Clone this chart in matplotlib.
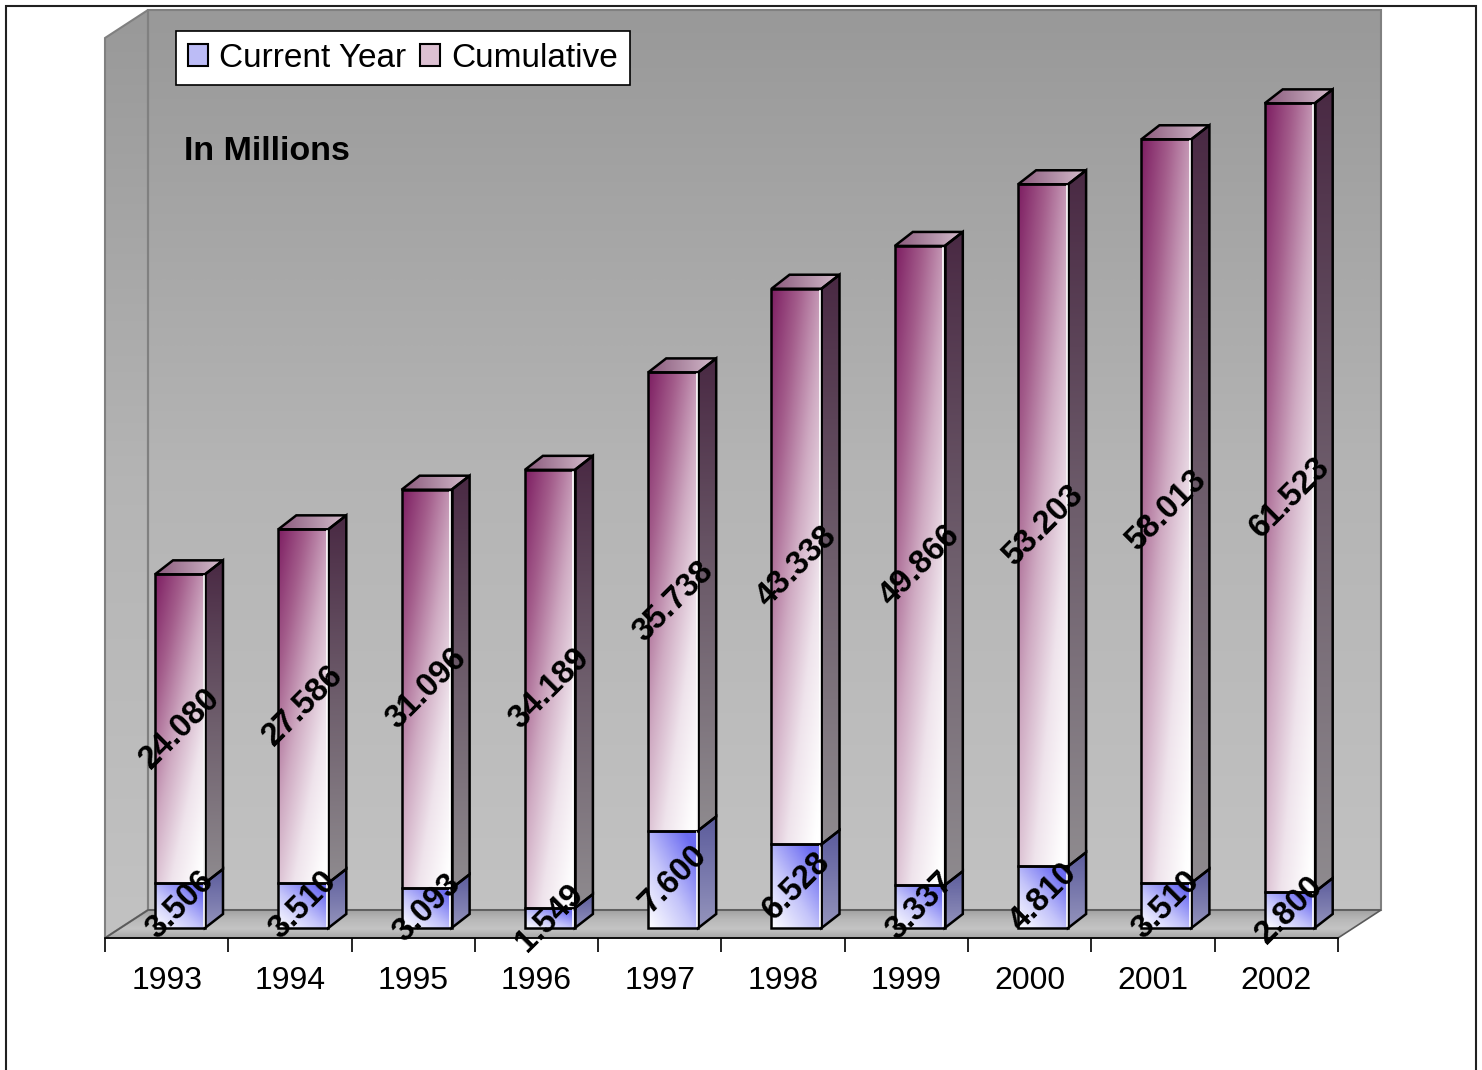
import numpy as np
import matplotlib.pyplot as plt
from matplotlib.colors import LinearSegmentedColormap
from matplotlib.patches import Polygon, Rectangle, Patch

plt.rcParams['font.family'] = ['Liberation Sans', 'DejaVu Sans']

# data (millions)
years = ['1993', '1994', '1995', '1996', '1997', '1998', '1999', '2000', '2001', '2002']
current_year = [3.506, 3.510, 3.093, 1.549, 7.600, 6.528, 3.337, 4.810, 3.510, 2.800]
cumulative = [24.080, 27.586, 31.096, 34.189, 35.738, 43.338, 49.866, 53.203, 58.013, 61.523]

# canvas geometry: one category = 123.3 px, one million = 12.82 px
W, H = 1482, 1070
CAT_PX, VAL_PX = 123.3, 12.82
ORIGIN_X, ORIGIN_Y = 105, 928

BAR_OFF = 50 / CAT_PX
BAR_W = 50 / CAT_PX
DX, DY = 18 / CAT_PX, 14 / VAL_PX            # bar depth
FLOOR = -10 / VAL_PX                          # front edge of the floor
WALL_DX, WALL_DY = 43 / CAT_PX, 28 / VAL_PX   # floor/wall depth
WALL_TOP = (ORIGIN_Y - 10) / VAL_PX

cm = LinearSegmentedColormap.from_list
cum_front = cm('cf', ['#ffffff', '#efe4ec', '#cfaac2', '#a45e8c', '#7e1f63'])
cum_side = cm('cs', ['#8e8a8e', '#6e5e6c', '#4a2a44'])
cum_top = cm('ct', ['#d4bccc', '#8a5a7c'])
cur_front = cm('bf', ['#ffffff', '#c4c4fa', '#6c6cf2'])
cur_side = cm('bs', ['#9494bc', '#5c5c9c'])
wall = cm('w', ['#c2c2c2', '#b4b4b4', '#999999'])
floor_cm = cm('fl', ['#a2a2a2', '#b8b8b8', '#c4c4c4', '#a8a8a8'])


def shade(ax, patch, bounds, cmap, func, z):
    x0, x1, y0, y1 = bounds
    U, V = np.meshgrid(np.linspace(0, 1, 80), np.linspace(0, 1, 80))
    img = ax.imshow(np.clip(func(U, V), 0, 1), cmap=cmap, vmin=0, vmax=1,
                    extent=[x0, x1, y0, y1], origin='lower', aspect='auto',
                    interpolation='bilinear', zorder=z)
    img.set_clip_path(patch)


def face(ax, pts, cmap, func, z, ec='black', lw=1.8):
    poly = Polygon(pts, closed=True, fc='none', ec=ec, lw=lw, zorder=z + 1,
                   joinstyle='miter')
    ax.add_patch(poly)
    xs = [p[0] for p in pts]
    ys = [p[1] for p in pts]
    shade(ax, poly, (min(xs), max(xs), min(ys), max(ys)), cmap, func, z)
    return poly


fig = plt.figure(figsize=(W / 100, H / 100), dpi=100)
ax = fig.add_axes([0, 0, 1, 1])
ax.axis('off')

# walls and floor
face(ax, [(WALL_DX, FLOOR + WALL_DY), (10 + WALL_DX, FLOOR + WALL_DY),
          (10 + WALL_DX, WALL_TOP), (WALL_DX, WALL_TOP)],
     wall, lambda u, v: v, 0.2, ec='#808080', lw=1.5)
face(ax, [(0, FLOOR), (WALL_DX, FLOOR + WALL_DY), (WALL_DX, WALL_TOP),
          (0, WALL_TOP - WALL_DY)],
     wall, lambda u, v: v, 0.2, ec='#808080', lw=1.5)
face(ax, [(0, FLOOR), (10, FLOOR), (10 + WALL_DX, FLOOR + WALL_DY),
          (WALL_DX, FLOOR + WALL_DY)],
     floor_cm, lambda u, v: 1 - v, 0.2, ec='#5a5a5a', lw=1.2)

# category axis with ticks between the years
ax.plot([0, 10], [FLOOR, FLOOR], color='black', lw=1.2, zorder=2)
ax.vlines(np.arange(11), FLOOR - 14 / VAL_PX, FLOOR, color='black', lw=1.2, zorder=2)
for i, yr in enumerate(years):
    ax.text(i + 0.5, (ORIGIN_Y - 981) / VAL_PX, yr, ha='center', va='center',
            fontsize=23)

xs = np.arange(len(years)) + BAR_OFF
cur_bars = ax.bar(xs, current_year, width=BAR_W, align='edge', fc='none',
                  ec='black', lw=1.8, zorder=5)
cum_bars = ax.bar(xs, cumulative, width=BAR_W, bottom=current_year, align='edge',
                  fc='none', ec='black', lw=1.8, zorder=5)

for segs, front_cm, side_cm, front_fn in [
        (cur_bars, cur_front, cur_side, lambda u, v: 0.55 * u + 0.6 * v),
        (cum_bars, cum_front, cum_side, lambda u, v: 0.45 * (1 - u) + 0.6 * v - 0.05)]:
    for r in segs:
        x0, y0 = r.get_x(), r.get_y()
        x1, y1 = x0 + r.get_width(), y0 + r.get_height()
        shade(ax, r, (x0, x1, y0, y1), front_cm, front_fn, 4)
        face(ax, [(x1, y0), (x1 + DX, y0 + DY), (x1 + DX, y1 + DY), (x1, y1)],
             side_cm, lambda u, v: v, 4)
        if segs is cum_bars:
            face(ax, [(x0, y1), (x1, y1), (x1 + DX, y1 + DY), (x0 + DX, y1 + DY)],
                 cum_top, lambda u, v: 1 - u, 4)
        # thin highlight where the front meets the side
        ax.plot([x1 - 0.012, x1 - 0.012], [y0 + 0.15, y1 - 0.15], color='white',
                lw=1.2, zorder=5)

# value labels along the middle of each segment
for r, val in zip(list(cur_bars) + list(cum_bars), current_year + cumulative):
    ax.text(r.get_x() + r.get_width() / 2, r.get_y() + r.get_height() / 2,
            f'{val:.3f}', rotation=45, rotation_mode='anchor', ha='center',
            va='center', fontsize=23.5, fontweight='bold', zorder=8)

ax.text(184 / W, 1 - 160 / H, 'In Millions', transform=ax.transAxes,
        fontsize=24.5, fontweight='bold', ha='left', va='baseline', zorder=8)

leg = ax.legend(handles=[Patch(fc='#bcbcf6', ec='black', lw=1.5, label='Current Year'),
                         Patch(fc='#dcc0d2', ec='black', lw=1.5, label='Cumulative')],
                loc='upper left', bbox_to_anchor=(176 / W, 1 - 31 / H), ncol=2,
                fontsize=24, frameon=True, fancybox=False, edgecolor='black',
                framealpha=1, handlelength=0.6, handleheight=0.6,
                handletextpad=0.35, columnspacing=0.4, borderpad=0.35,
                borderaxespad=0)
leg.get_frame().set_linewidth(1.2)
leg.set_zorder(9)

ax.set_xlim(-ORIGIN_X / CAT_PX, (W - ORIGIN_X) / CAT_PX)
ax.set_ylim((ORIGIN_Y - H) / VAL_PX, ORIGIN_Y / VAL_PX)

# outer frame
fig.add_artist(Rectangle((6 / W, -0.02), (1476 - 6) / W, 1 - 6 / H + 0.02,
                         transform=fig.transFigure, fill=False, ec='#202020', lw=1.5))

fig.savefig('out.png', dpi=100)
